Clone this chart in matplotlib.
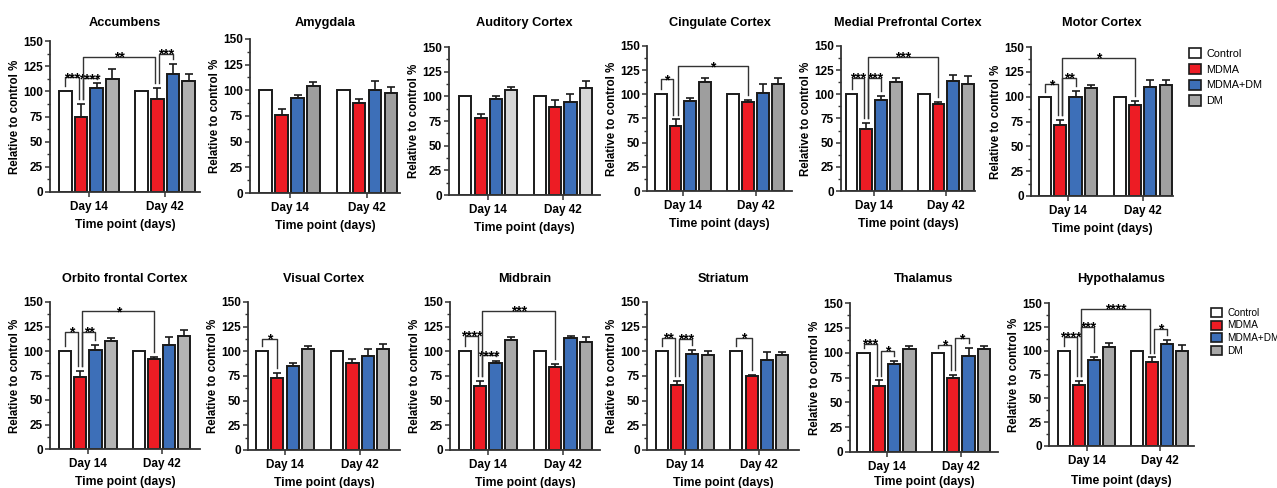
import numpy as np
import matplotlib
matplotlib.use('Agg')
import matplotlib.pyplot as plt
from matplotlib.patches import Patch
from matplotlib.ticker import MultipleLocator, AutoMinorLocator

plt.rcParams['font.family'] = ['Liberation Sans', 'DejaVu Sans']
plt.rcParams['font.weight'] = 'bold'
plt.rcParams['axes.labelweight'] = 'bold'

regions = ['Accumbens', 'Amygdala', 'Auditory Cortex', 'Cingulate Cortex',
           'Medial Prefrontal Cortex', 'Motor Cortex',
           'Orbito frontal Cortex', 'Visual Cortex', 'Midbrain', 'Striatum',
           'Thalamus', 'Hypothalamus']
groups = ['Control', 'MDMA', 'MDMA+DM', 'DM']
days = ['Day 14', 'Day 42']

# values in % of control, same order as regions
control = [100] * 12
mdma_d14 = [75, 75.5, 78, 67.5, 64, 71, 73, 72.5, 64.5, 65.5, 66.5, 63.5]
mdma_d14_err = [12.5, 6.5, 4, 6.5, 6, 6, 6.5, 5.5, 5, 4.5, 5.5, 5]
blue_d14 = [103, 93, 97.5, 93, 94.5, 100, 101.5, 85.5, 88, 97, 88.5, 90]
blue_d14_err = [5.5, 2.5, 3, 3.5, 3.5, 5.5, 4.5, 2.5, 2.5, 4.5, 3.5, 3.5]
dm_d14 = [112, 104.5, 106, 113, 113, 109, 110, 102.5, 111, 96.5, 103.5, 104]
dm_d14_err = [10, 3.5, 3, 4, 3.5, 2.5, 3.5, 3, 3.5, 3.5, 3, 4]
mdma_d42 = [92, 88, 89.5, 92, 90, 92, 92, 88, 84.5, 74.5, 74, 88]
mdma_d42_err = [11, 4, 6.5, 2, 2, 3.5, 2, 4, 2.5, 1.5, 3.5, 5]
blue_d42 = [117, 100.5, 94.5, 101.5, 113.5, 109.5, 106, 95, 113.5, 91, 96.5, 107.5]
blue_d42_err = [10.5, 9, 7.5, 9, 6.5, 7.5, 8.5, 7.5, 2.5, 8, 8, 3.5]
dm_d42 = [110.5, 97.5, 108.5, 110.5, 111, 111.5, 115.5, 102.5, 109, 96, 103.5, 99.5]
dm_d42_err = [7, 6, 7, 6, 8, 5, 5.5, 5, 5.5, 3.5, 3.5, 6.5]

# significance brackets: (bar a, bar b, height, label); bars 0-3 day 14, 4-7 day 42
brackets = [
    [(0, 1, 114, '***'), (1, 2, 113, '****'), (1, 5, 134, '**'), (5, 6, 137, '***')],
    [],
    [],
    [(0, 1, 115.5, '*'), (1, 5, 129, '*')],
    [(0, 1, 117, '***'), (1, 2, 117, '***'), (1, 5, 139, '***')],
    [(0, 1, 112.5, '*'), (1, 2, 119, '**'), (1, 5, 139, '*')],
    [(0, 1, 119.5, '*'), (1, 2, 119.5, '**'), (1, 5, 140.5, '*')],
    [(0, 1, 112.5, '*')],
    [(0, 1, 116, '****'), (1, 2, 96, '****'), (1, 5, 141, '***')],
    [(0, 1, 113.5, '**'), (1, 2, 112.5, '***'), (4, 5, 113.5, '*')],
    [(0, 1, 109, '***'), (1, 2, 102, '*'), (4, 5, 108, '*'), (5, 6, 114.5, '*')],
    [(0, 1, 114.5, '****'), (1, 2, 125, '***'), (1, 5, 144, '****'), (5, 6, 123, '*')],
]

colors = ['white', '#ED1C24', '#3D6FB8', '#A8A8A8']
dm_colors = ['#B0B0B0', '#9E9E9E', '#D6D6D6', '#9E9E9E', '#A8A8A8', '#A0A0A0',
             '#B4B4B4', '#B0B0B0', '#A8A8A8', '#B0B0B0', '#A8A8A8', '#A8A8A8']

# panel boxes in pixels: left, right, top (150), bottom (0)
panel_px = [(50, 200, 41, 192), (250, 400, 39, 193), (449, 600, 47, 195),
            (647, 792, 46, 191), (841, 975, 46, 191), (1031, 1173, 47, 196),
            (50, 200, 302, 449), (248, 400, 302, 450), (450, 600, 302, 450),
            (647, 799, 302, 450), (850, 998, 303, 452), (1049, 1194, 303, 446)]
panel_xlim = [(-0.98, 8.6), (-0.99, 8.44), (-1.07, 8.8), (-0.91, 8.8),
              (-0.71, 8.34), (-0.91, 8.35), (-1.0, 8.9), (-0.9, 8.96),
              (-0.96, 8.78), (-0.96, 8.96), (-0.89, 8.8), (-1.02, 8.66)]
xlabel_pad = [4.5] * 10 + [2.5, 5.5]
title_y = [23, 279]

W, H = 1277, 488
fig = plt.figure(figsize=(W / 100, H / 100), dpi=100)

gap = 4.87
xpos = np.r_[np.arange(4), np.arange(4) + gap]
ink = '#1a1a1a'

for k, name in enumerate(regions):
    l, r, t, b = panel_px[k]
    ax = fig.add_axes([l / W, 1 - b / H, (r - l) / W, (b - t) / H])
    vals = np.array([control[k], mdma_d14[k], blue_d14[k], dm_d14[k],
                     control[k], mdma_d42[k], blue_d42[k], dm_d42[k]], float)
    errs = np.array([0, mdma_d14_err[k], blue_d14_err[k], dm_d14_err[k],
                     0, mdma_d42_err[k], blue_d42_err[k], dm_d42_err[k]], float)
    cols = colors[:3] + [dm_colors[k]]
    ax.bar(xpos, vals, width=0.8, color=cols * 2, edgecolor=ink, linewidth=1.4, zorder=2)
    m = errs > 0
    ax.errorbar(xpos[m], vals[m], yerr=[np.zeros(m.sum()), errs[m]], fmt='none',
                ecolor=ink, elinewidth=1.2, capsize=3, capthick=1.2, zorder=1)

    tops = vals + errs
    used = {}
    for a, c, y, lab in brackets[k]:
        used[a] = used.get(a, 0) + 1
        used[c] = used.get(c, 0) + 1
    for a, c, y, lab in brackets[k]:
        xa = xpos[a] + (0.14 if used[a] > 1 else 0)
        xc = xpos[c] - (0.14 if used[c] > 1 else 0)
        ya = min(tops[a] + 5, y - 1)
        yc = min(tops[c] + 5, y - 1)
        ax.plot([xa, xa, xc, xc], [ya, y, y, yc], color='#333333', lw=1.0,
                clip_on=False, zorder=3)
        ax.annotate(lab, ((xa + xc) / 2, y), xytext=(0, -3.5), textcoords='offset points',
                    ha='center', va='baseline', fontsize=10, fontweight='bold',
                    annotation_clip=False)

    ax.set_xlim(*panel_xlim[k])
    ax.set_ylim(0, 150)
    ax.yaxis.set_major_locator(MultipleLocator(25))
    ax.yaxis.set_minor_locator(AutoMinorLocator(2))
    ax.set_xticks([xpos[:4].mean(), xpos[4:].mean()])
    ax.set_xticklabels(days)
    for s in ['top', 'right']:
        ax.spines[s].set_visible(False)
    for s in ['left', 'bottom']:
        ax.spines[s].set_linewidth(1.3)
        ax.spines[s].set_color('#333333')
    ax.tick_params(axis='y', which='major', length=3.5, width=1.1, pad=1.5,
                   labelsize=8.5, colors='#333333', labelcolor='black')
    ax.tick_params(axis='y', which='minor', length=2, width=1.0, colors='#333333')
    ax.tick_params(axis='x', length=3.5, width=1.1, pad=3, labelsize=8.5,
                   colors='#333333', labelcolor='black')
    ax.set_ylabel('Relative to control %', fontsize=8.3, labelpad=1.5)
    ax.set_xlabel('Time point (days)', fontsize=8.7, labelpad=xlabel_pad[k])
    fig.text((l + r) / 2 / W, 1 - title_y[k // 6] / H, name, ha='center', va='center',
             fontsize=9.2, fontweight='bold')

handles = [Patch(facecolor=c, edgecolor=ink, linewidth=1.2) for c in colors]
fig.legend(handles, groups, loc='upper left', bbox_to_anchor=(1189 / W, 1 - 48 / H),
           frameon=False, prop={'weight': 'normal', 'size': 7.8}, handlelength=1.1,
           handleheight=1.1, handletextpad=0.5, labelspacing=0.45,
           borderaxespad=0, borderpad=0)
fig.legend(handles, groups, loc='upper left', bbox_to_anchor=(1211 / W, 1 - 308 / H),
           frameon=False, prop={'weight': 'normal', 'size': 7.2}, handlelength=1.1,
           handleheight=1.0, handletextpad=0.5, labelspacing=0.25,
           borderaxespad=0, borderpad=0)

fig.savefig('out.png', dpi=100)
